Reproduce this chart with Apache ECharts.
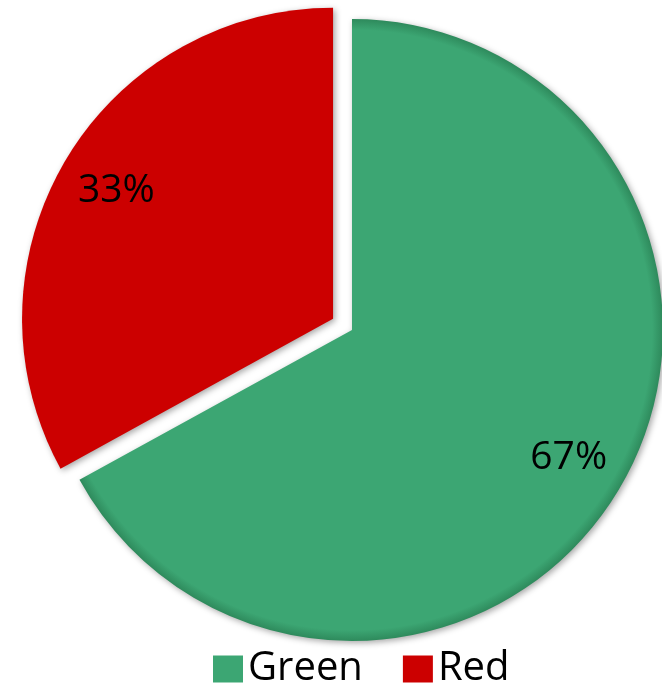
<!DOCTYPE html>
<html><head><meta charset="utf-8">
<script src="https://cdn.jsdelivr.net/npm/echarts@6/dist/echarts.min.js"></script>
<style>html,body{margin:0;padding:0;background:#fff}#c{width:662px;height:696px}</style>
</head><body><div id="c"></div>
<script>
const categories = ['Green', 'Red'];
const values = [67, 33];
const labels = ['67%', '33%'];
const colors = ['#3ca673', '#cc0000'];
const edgeColors = ['#2e8a5c', '#a30000'];

const chart = echarts.init(document.getElementById('c'));
const center = [352, 330];
const R = 311;
const offset = 22;

// compute slice centres (for global gradient) from the values
const total = values.reduce((a, b) => a + b, 0);
function sliceCenter(i) {
  const before = values.slice(0, i).reduce((a, b) => a + b, 0);
  const mid = (before + values[i] / 2) / total * 2 * Math.PI; // clockwise from top
  const sel = categories[i] === 'Red';
  const d = sel ? offset : 0;
  return [center[0] + d * Math.sin(mid), center[1] - d * Math.cos(mid)];
}
function grad(i) {
  const c = sliceCenter(i);
  return {
    type: 'radial', x: c[0], y: c[1], r: R, global: true,
    colorStops: [
      { offset: 0, color: colors[i] },
      { offset: 0.965, color: colors[i] },
      { offset: 1, color: edgeColors[i] }
    ]
  };
}

const mainData = categories.map((c, i) => ({
  name: c, value: values[i], selected: c === 'Red',
  itemStyle: { color: grad(i) }
}));
const labelData = categories.map((c, i) => ({
  name: c, value: values[i], selected: c === 'Red',
  label: { formatter: labels[i] }
}));

chart.setOption({
  animation: false,
  color: colors,
  legend: {
    bottom: 2, left: 208,
    itemWidth: 30, itemHeight: 27, itemGap: 40,
    icon: 'rect',
    textStyle: { fontFamily: 'Open Sans', fontSize: 40, color: '#000' },
    data: categories.map((c, i) => ({ name: c, itemStyle: { color: colors[i] } }))
  },
  series: [
    {
      type: 'pie', center: center, radius: R, startAngle: 90, clockwise: true,
      selectedMode: 'single', selectedOffset: offset,
      label: { show: false }, labelLine: { show: false },
      itemStyle: { shadowBlur: 6, shadowColor: 'rgba(0,0,0,0.35)', shadowOffsetX: 2, shadowOffsetY: 2 },
      emphasis: { disabled: true },
      data: mainData
    },
    {
      type: 'pie', center: center, radius: [R * 0.6, R], startAngle: 90, clockwise: true,
      selectedMode: 'single', selectedOffset: offset, silent: true,
      legendHoverLink: false,
      itemStyle: { color: 'rgba(0,0,0,0)' },
      label: { show: true, position: 'inside', fontFamily: 'Open Sans', fontSize: 39, color: '#000' },
      labelLine: { show: false },
      emphasis: { disabled: true },
      data: labelData
    }
  ]
});
</script></body></html>
